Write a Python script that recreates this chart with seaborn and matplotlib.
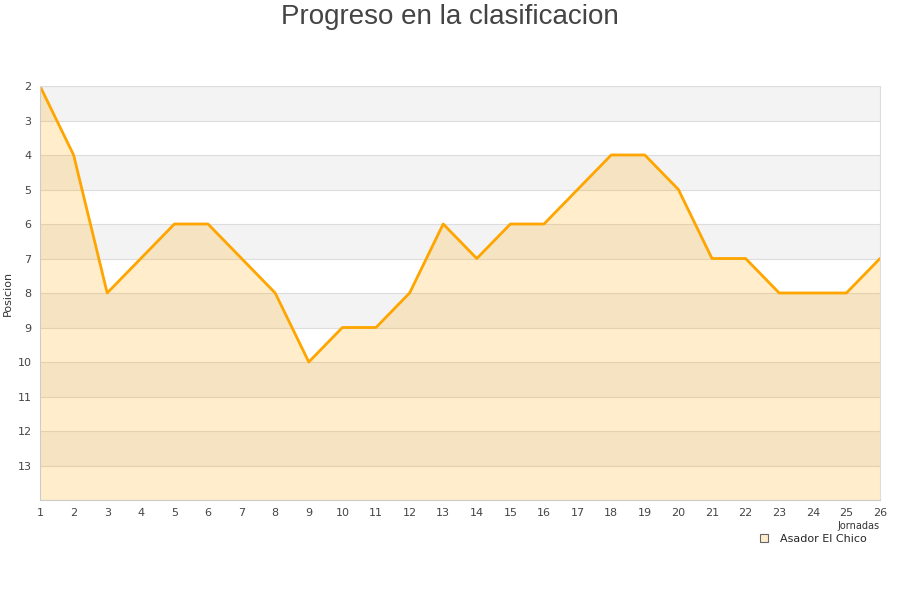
import numpy as np
import pandas as pd
import matplotlib.pyplot as plt
import seaborn as sns
from matplotlib.lines import Line2D

jornadas = list(range(1, 27))
posiciones = [2, 4, 8, 7, 6, 6, 7, 8, 10, 9, 9, 8, 6, 7, 6, 6, 5, 4, 4, 5, 7, 7, 8, 8, 8, 7]
equipo = "Asador El Chico"

df = pd.DataFrame({"Jornada": jornadas, "Posicion": posiciones})

sns.set_style("white")
plt.rcParams['font.family'] = ['DejaVu Sans']

fig = plt.figure(figsize=(9, 6), dpi=100)
ax = fig.add_axes([40/900, 1-500/600, 840/900, 414/600])

# bandas alternas
for y in range(2, 14, 2):
    ax.axhspan(y, y+1, color="#f3f3f3", zorder=0, lw=0)
for y in range(2, 15):
    ax.axhline(y, color="#dddddd", lw=0.8, zorder=0.5)

ax.fill_between(df["Jornada"], df["Posicion"], 14, color="#ffa500", alpha=0.2, lw=0, zorder=1)
sns.lineplot(data=df, x="Jornada", y="Posicion", color="#ffa500", lw=2, ax=ax, zorder=2)

ax.set_xlim(1, 26)
ax.set_ylim(14, 2)
ax.set_xticks(jornadas)
ax.set_yticks(range(2, 14))
ax.tick_params(labelsize=8, colors="#444444", length=0, pad=6)
ax.set_ylabel("Posicion", fontsize=8, color="#333333", labelpad=3)
ax.set_xlabel("Jornadas", fontsize=7, color="#333333", loc="right", labelpad=2)
for s in ax.spines.values():
    s.set_color("#dddddd")
    s.set_linewidth(0.8)
ax.spines["left"].set_color("#cccccc")
ax.spines["bottom"].set_color("#cccccc")

fig.suptitle("Progreso en la clasificacion", fontsize=20, color="#444444", y=0.993,
             family=["Liberation Sans", "DejaVu Sans"])

handle = Line2D([], [], marker="s", ls="none", markersize=6,
                markerfacecolor="#ffedcc", markeredgecolor="#666666", markeredgewidth=0.8)
leg = fig.legend([handle], [equipo], loc="center", bbox_to_anchor=(810/900, 1-539/600),
                 fontsize=8, frameon=True, handletextpad=0.4, borderpad=0.3)
leg.get_frame().set_facecolor("white")
leg.get_frame().set_edgecolor("white")
leg.get_frame().set_alpha(1)

fig.savefig("out.png", dpi=100)
